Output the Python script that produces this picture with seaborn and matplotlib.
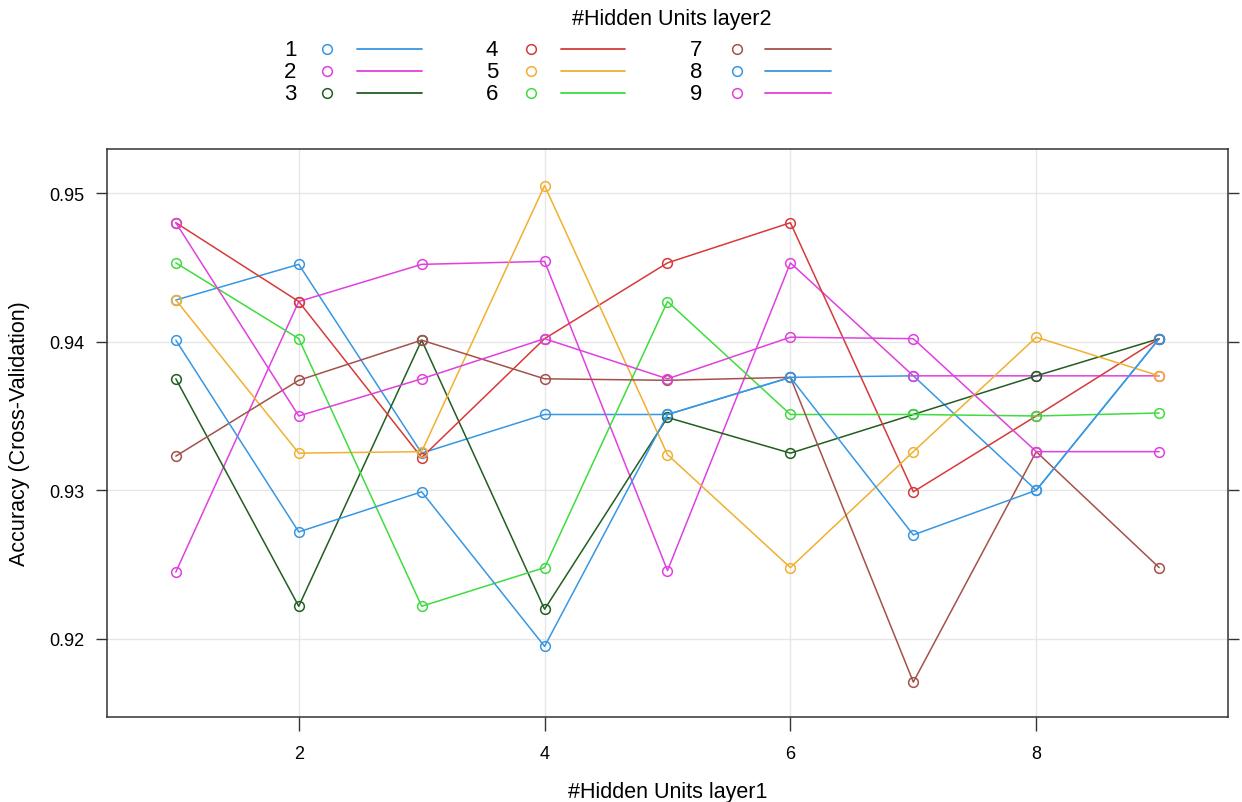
import pandas as pd
import matplotlib.pyplot as plt
import seaborn as sns
from matplotlib.lines import Line2D

# Data (accuracy per hidden units layer1, one list per layer2 size)
layer1 = [1, 2, 3, 4, 5, 6, 7, 8, 9]
layer2 = ["1", "2", "3", "4", "5", "6", "7", "8", "9"]
acc_1 = [0.9428, 0.9452, 0.9325, 0.9351, 0.9351, 0.9376, 0.9377, 0.9300, 0.9402]
acc_2 = [0.9245, 0.9427, 0.9452, 0.9454, 0.9246, 0.9453, 0.9377, 0.9377, 0.9377]
acc_3 = [0.9375, 0.9222, 0.9401, 0.9220, 0.9349, 0.9325, 0.9351, 0.9377, 0.9402]
acc_4 = [0.9480, 0.9427, 0.9322, 0.9402, 0.9453, 0.9480, 0.9299, 0.9350, 0.9402]
acc_5 = [0.9428, 0.9325, 0.9326, 0.9505, 0.9324, 0.9248, 0.9326, 0.9403, 0.9377]
acc_6 = [0.9453, 0.9402, 0.9222, 0.9248, 0.9427, 0.9351, 0.9351, 0.9350, 0.9352]
acc_7 = [0.9323, 0.9374, 0.9401, 0.9375, 0.9374, 0.9376, 0.9171, 0.9326, 0.9248]
acc_8 = [0.9401, 0.9272, 0.9299, 0.9195, 0.9351, 0.9376, 0.9270, 0.9300, 0.9402]
acc_9 = [0.9480, 0.9350, 0.9375, 0.9402, 0.9375, 0.9403, 0.9402, 0.9326, 0.9326]
all_acc = [acc_1, acc_2, acc_3, acc_4, acc_5, acc_6, acc_7, acc_8, acc_9]

x_ticks = [2, 4, 6, 8]
y_ticks = [0.92, 0.93, 0.94, 0.95]

# lattice-like superpose colours
colors = ["#3797e3", "#e040e0", "#215e21", "#d63a3a", "#f0b030",
          "#3fdc3f", "#a3524b", "#3797e3", "#e040e0"]

rows = []
for name, accs in zip(layer2, all_acc):
    for x, a in zip(layer1, accs):
        rows.append({"layer1": x, "layer2": name, "Accuracy": a})
df = pd.DataFrame(rows)

sns.set_theme(style="white")
plt.rcParams["font.family"] = ["Liberation Sans", "DejaVu Sans"]
plt.rcParams.update({"text.color": "black", "axes.labelcolor": "black",
                     "xtick.color": "black", "ytick.color": "black"})

W, H = 1242, 803
fig = plt.figure(figsize=(W / 100, H / 100), dpi=100)
ax = fig.add_axes([107 / W, 1 - 718 / H, (1228 - 107) / W, (718 - 150) / H])


def fx(px):
    return px / W


def fy(py):
    return 1 - py / H


sns.lineplot(data=df, x="layer1", y="Accuracy", hue="layer2", hue_order=layer2,
             palette=colors, marker="o", markersize=7, linewidth=1.1,
             legend=False, ax=ax)
for line, c in zip(ax.lines, colors):
    line.set_markerfacecolor("none")
    line.set_markeredgecolor(c)
    line.set_markeredgewidth(1.1)

ax.set_xlim(0.44, 9.56)
ax.set_ylim(0.91475, 0.95296)
ax.set_xticks(x_ticks)
ax.set_yticks(y_ticks)
ax.set_yticklabels([f"{v:.2f}" for v in y_ticks])
ax.grid(True, color="#e6e6e6", linewidth=1)
ax.set_axisbelow(True)
for s in ax.spines.values():
    s.set_color("#333333")
    s.set_linewidth(1.1)
ax.tick_params(axis="y", left=True, right=True, direction="out", length=8,
               width=1, color="#333333", labelsize=13, pad=8)
ax.tick_params(axis="x", bottom=True, top=False, direction="out", length=10,
               width=1, color="#333333", labelsize=13, pad=10)
ax.set_xlabel("#Hidden Units layer1", fontsize=15.5, labelpad=14)
ax.set_ylabel("Accuracy (Cross-Validation)", fontsize=15.5, labelpad=14)

# key on top, text / point / line like a lattice key
fig.text(fx(672), fy(20), "#Hidden Units layer2", fontsize=15.5,
         ha="center", va="center")
col_label = [290, 492, 696]
col_point = [327, 531, 737]
col_line = [(357, 422), (561, 625), (765, 831)]
row_y = [50, 72, 94]
for i, (name, c) in enumerate(zip(layer2, colors)):
    col, row = divmod(i, 3)
    y = fy(row_y[row])
    fig.text(fx(col_label[col]), y, name, fontsize=16, ha="center", va="center")
    fig.add_artist(Line2D([fx(col_point[col])], [y], marker="o", markersize=7,
                          markerfacecolor="none", markeredgecolor=c,
                          markeredgewidth=1.1, linestyle="none",
                          transform=fig.transFigure))
    x0, x1 = col_line[col]
    fig.add_artist(Line2D([fx(x0), fx(x1)], [y, y], color=c, linewidth=1.3,
                          transform=fig.transFigure))

fig.savefig("out.png", dpi=100)
